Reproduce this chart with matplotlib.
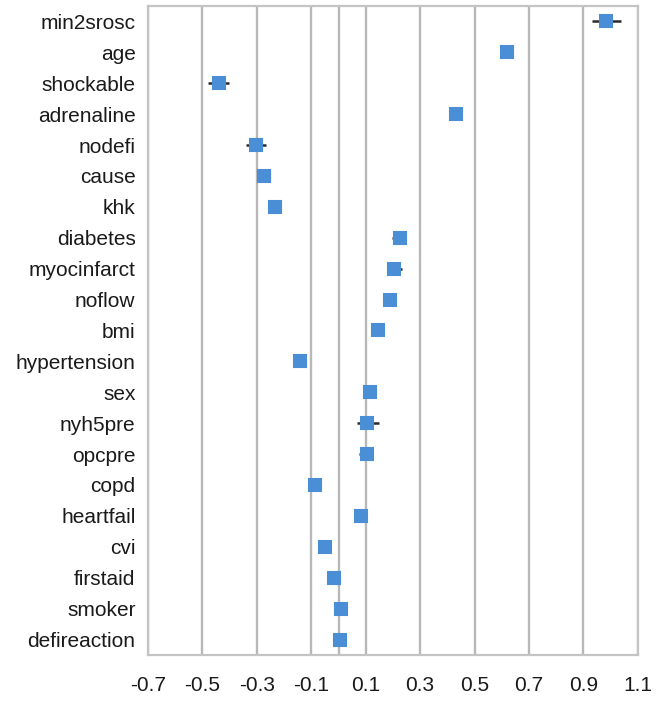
import numpy as np
import matplotlib
matplotlib.use("Agg")
from matplotlib import pyplot as plt

plt.rcParams['font.family'] = ['Liberation Sans', 'DejaVu Sans']

# coefficient estimates with lower / upper interval bounds
features = ["min2srosc", "age", "shockable", "adrenaline", "nodefi", "cause", "khk",
            "diabetes", "myocinfarct", "noflow", "bmi", "hypertension", "sex", "nyh5pre",
            "opcpre", "copd", "heartfail", "cvi", "firstaid", "smoker", "defireaction"]
coef = [0.984, 0.62, -0.441, 0.43, -0.302, -0.275, -0.235,
        0.227, 0.202, 0.188, 0.146, -0.141, 0.114, 0.106,
        0.104, -0.085, 0.083, -0.051, -0.015, 0.01, 0.004]
lower = [0.933, 0.60, -0.48, 0.42, -0.339, -0.285, -0.245,
         0.197, 0.185, 0.178, 0.136, -0.151, 0.104, 0.067,
         0.075, -0.095, 0.073, -0.061, -0.042, 0.0, -0.006]
upper = [1.039, 0.64, -0.403, 0.44, -0.266, -0.265, -0.225,
         0.237, 0.234, 0.198, 0.156, -0.131, 0.124, 0.148,
         0.124, -0.075, 0.093, -0.041, -0.005, 0.02, 0.014]
xticks = [-0.7, -0.5, -0.3, -0.1, 0.1, 0.3, 0.5, 0.7, 0.9, 1.1]

gridcol = '#b8b8b8'
markcol = '#4a8fd6'

fig = plt.figure(figsize=(6.59, 7.02), dpi=100)
ax = fig.add_axes([0.2246, 0.067, 0.968 - 0.2246, 0.9915 - 0.067])

y = np.arange(len(features))
coef = np.array(coef)
err = np.vstack([coef - np.array(lower), np.array(upper) - coef])

for xt in xticks + [0.0]:
    ax.axvline(xt, color=gridcol, lw=1.7, zorder=1)

ax.errorbar(coef, y, xerr=err, fmt='none', ecolor='#2a2a2a', elinewidth=1.8,
            capsize=0, zorder=2)
ax.plot(coef, y, 's', color=markcol, markersize=8.5, markeredgecolor=markcol,
        markeredgewidth=1.5, zorder=3)

ax.set_xlim(-0.7, 1.1)
ax.set_ylim(len(features) - 0.5, -0.5)
ax.set_yticks(y)
ax.set_yticklabels(features)
ax.set_xticks(xticks)
ax.set_xticklabels(["%.1f" % v for v in xticks])
ax.tick_params(axis='both', length=0, labelsize=15, colors='#1a1a1a')
ax.tick_params(axis='x', pad=15)
ax.tick_params(axis='y', pad=9)

for s in ax.spines.values():
    s.set_color('#c4c4c4')
    s.set_linewidth(1.6)

fig.savefig("out.png", dpi=100)
